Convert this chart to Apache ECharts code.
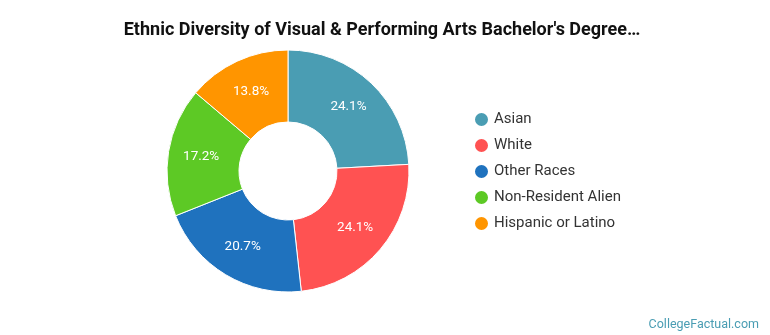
<!DOCTYPE html>
<html><head><meta charset="utf-8">
<script src="https://cdn.jsdelivr.net/npm/echarts@6/dist/echarts.min.js"></script>
<style>html,body{margin:0;padding:0;background:#fff}#c{width:770px;height:335px}</style>
</head><body><div id="c"></div>
<script>
const categories = ["Asian", "White", "Other Races", "Non-Resident Alien", "Hispanic or Latino"];
const values = [24.1, 24.1, 20.7, 17.2, 13.8];
const colors = ["#4a9db3", "#ff5252", "#1f72be", "#5dc925", "#ff9500"];
const titleText = "Ethnic Diversity of Visual & Performing Arts Bachelor's Degree…";

const chart = echarts.init(document.getElementById('c'), null, {renderer: 'canvas'});
chart.setOption({
  animation: false,
  backgroundColor: '#fff',
  title: [{
    text: titleText, left: 377, top: 16, textAlign: 'center',
    textStyle: {fontFamily: 'Roboto', fontWeight: 'bold', fontSize: 18, color: '#111'}
  }, {
    text: 'CollegeFactual.com', right: 6, top: 313,
    textStyle: {fontFamily: 'Roboto', fontWeight: 'normal', fontSize: 12.5, color: '#4a9db3'}
  }],
  legend: {
    orient: 'vertical', left: 468, top: 106, itemGap: 9, itemWidth: 15, itemHeight: 15,
    icon: 'circle', data: categories,
    textStyle: {fontFamily: 'Roboto', fontSize: 15, color: '#333', lineHeight: 15}
  },
  series: [{
    type: 'pie', center: [288, 171], radius: [49, 121], startAngle: 90, clockwise: true,
    data: categories.map((n, i) => ({name: n, value: values[i], itemStyle: {color: colors[i]}})),
    itemStyle: {borderColor: '#fff', borderWidth: 1},
    label: {position: 'inside', formatter: p => p.value.toFixed(1) + '%', color: '#fff',
      fontFamily: 'Roboto', fontSize: 13.5},
    labelLine: {show: false}, emphasis: {disabled: true}
  }]
});
</script></body></html>
